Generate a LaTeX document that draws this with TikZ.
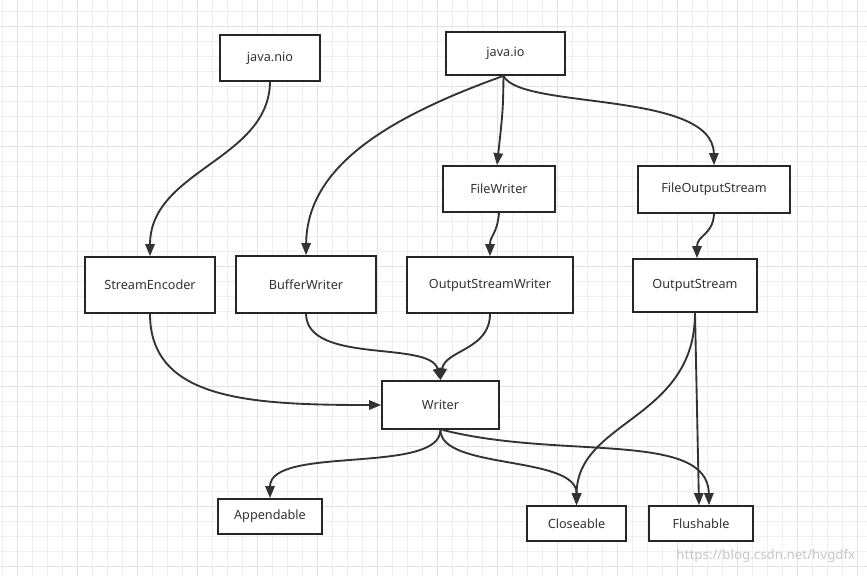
\documentclass[tikz,border=0pt]{standalone}
\usepackage{fontspec}
\setmainfont{Noto Sans}
\usetikzlibrary{arrows.meta}
\begin{document}
\begin{tikzpicture}[x=0.75pt,y=-0.75pt,
  box/.style={draw=black!85,line width=1.3pt,fill=white,inner sep=0pt,font=\fontsize{9.5}{11}\selectfont,text=black!80},
  ar/.style={draw=black!80,line width=1.4pt,-{Triangle[length=9pt,width=7pt]}}]
\fill[white] (0,0) rectangle (867,576);
\useasboundingbox (0,0) rectangle (867,576);
\foreach \x in {2,17,...,867}{\draw[black!6,line width=0.75pt] (\x,0)--(\x,576);}
\foreach \y in {11,26,...,576}{\draw[black!6,line width=0.75pt] (0,\y)--(867,\y);}
\foreach \x in {17,77,...,867}{\draw[black!11,line width=0.75pt] (\x,0)--(\x,576);}
\foreach \y in {26,86,...,576}{\draw[black!11,line width=0.75pt] (0,\y)--(867,\y);}
\def\bx#1#2#3#4#5#6{\node[box,minimum width=#4*0.75pt,minimum height=#5*0.75pt] (#1) at (#2,#3) {#6};}
\bx{nio}{270}{58}{100}{46}{java.nio}
\bx{io}{505.5}{53.5}{119}{43}{java.io}
\bx{fw}{499}{189}{112}{46}{FileWriter}
\bx{fos}{714}{189.5}{152}{47}{FileOutputStream}
\bx{se}{150}{285}{130}{56}{StreamEncoder}
\bx{bw}{306}{284.5}{140}{57}{BufferWriter}
\bx{osw}{490}{285}{166}{56}{OutputStreamWriter}
\bx{os}{695}{285.5}{124}{53}{OutputStream}
\bx{wr}{440.5}{405}{117}{48}{Writer}
\bx{ap}{270}{516.5}{104}{35}{Appendable}
\bx{cl}{576.5}{523.5}{99}{35}{Closeable}
\bx{fl}{701}{523.5}{104}{35}{Flushable}
\draw[ar] (nio.south) .. controls (269,160) and (150,170) .. (se.north);
\draw[ar] ([xshift=-1.5pt]io.south) .. controls (380,120) and (307,170) .. (bw.north);
\draw[ar] ([xshift=-1.5pt]io.south) .. controls (503,110) .. ([xshift=-1.5pt]fw.north);
\draw[ar] ([xshift=-1.5pt]io.south) .. controls (520,110) and (713,90) .. (fos.north);
\draw[ar] (fw.south) .. controls (497,235) and (490,235) .. (osw.north);
\draw[ar] (fos.south) .. controls (713,235) and (697,235) .. ([xshift=1.5pt]os.north);
\draw[ar] (se.south) .. controls (150,400) and (250,405) .. (wr.west);
\draw[ar] (bw.south) .. controls (307,365) and (430,340) .. (wr.north);
\draw[ar] (osw.south) .. controls (490,350) and (445,350) .. (wr.north);
\draw[ar] (wr.south) .. controls (440,475) and (270,445) .. (ap.north);
\draw[ar] (wr.south) .. controls (440,470) and (577,455) .. (cl.north);
\draw[ar] ([xshift=1.5pt]wr.south) .. controls (560,460) and (708,430) .. ([xshift=6pt]fl.north);
\draw[ar] (os.south) .. controls (695,420) and (577,420) .. (cl.north);
\draw[ar] (os.south) -- ([xshift=-1.5pt]fl.north);
\node[text=black!22,font=\fontsize{10}{12}\selectfont,anchor=east] (wm) at (860,556) {https://blog.csdn.net/hvgdfx};
\end{tikzpicture}
\end{document}
